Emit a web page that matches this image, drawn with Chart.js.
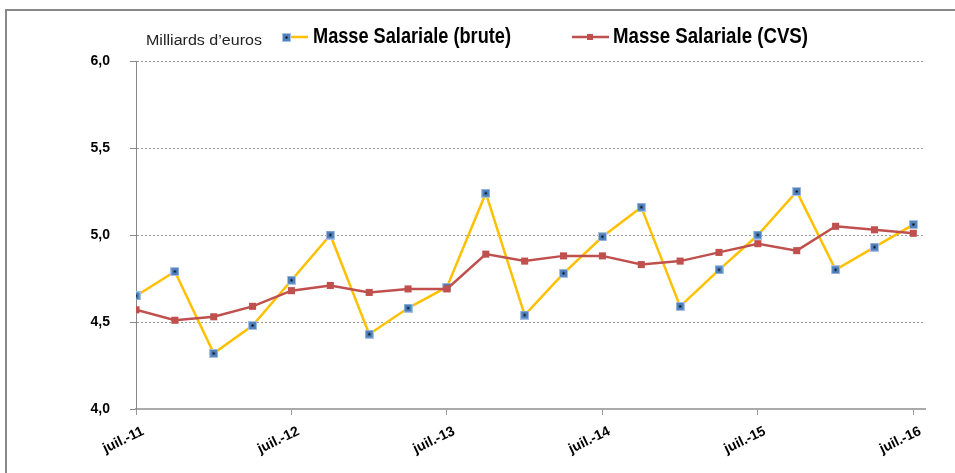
<!DOCTYPE html>
<html>
<head>
<meta charset="utf-8">
<script src="https://cdn.jsdelivr.net/npm/chart.js@4.4.1/dist/chart.umd.min.js"></script>
<style>
  body { margin: 0; background: #fff; overflow: hidden; }
  #frame { position: absolute; left: 5px; top: 9px; width: 1000px; height: 500px; border: 2px solid #888; }
  #salaryChart { position: absolute; left: 0; top: 0; }
</style>
</head>
<body>
<div id="frame"></div>
<canvas id="salaryChart" width="955" height="473"></canvas>
<script>
// quarters from juil.-11 to juil.-16
const quarters = [
  "juil.-11", "oct.-11", "janv.-12", "avr.-12",
  "juil.-12", "oct.-12", "janv.-13", "avr.-13",
  "juil.-13", "oct.-13", "janv.-14", "avr.-14",
  "juil.-14", "oct.-14", "janv.-15", "avr.-15",
  "juil.-15", "oct.-15", "janv.-16", "avr.-16",
  "juil.-16"
];
const masseBrute = [4.65, 4.79, 4.32, 4.48, 4.74, 5.00, 4.43, 4.58, 4.70, 5.24, 4.54,
  4.78, 4.99, 5.16, 4.59, 4.80, 5.00, 5.25, 4.80, 4.93, 5.06];
const masseCVS = [4.57, 4.51, 4.53, 4.59, 4.68, 4.71, 4.67, 4.69, 4.69, 4.89, 4.85,
  4.88, 4.88, 4.83, 4.85, 4.90, 4.95, 4.91, 5.05, 5.03, 5.01];
const shownTicks = [0, 4, 8, 12, 16, 20];
const yTicks = [4.0, 4.5, 5.0, 5.5, 6.0];

const serieLabels = ["Masse Salariale (brute)", "Masse Salariale (CVS)"];
const unitLabel = "Milliards d\u2019euros";

// blue marker with a black dot in the middle
function makeBlueMarker() {
  const c = document.createElement("canvas");
  c.width = 9; c.height = 9;
  const g = c.getContext("2d");
  g.fillStyle = "#A9C2E3";
  g.fillRect(0, 0, 9, 9);
  g.fillStyle = "#4F81BD";
  g.fillRect(1, 1, 7, 7);
  g.fillStyle = "#000";
  g.fillRect(3.5, 3.5, 2, 2);
  return c;
}
const blueMarker = makeBlueMarker();

function toPoints(arr) {
  return arr.map((v, i) => ({ x: i, y: v }));
}

function fitText(ctx, text, x, y, w) {
  const m = ctx.measureText(text).width;
  ctx.save();
  ctx.translate(x, y);
  ctx.scale(w / m, 1);
  ctx.fillText(text, 0, 0);
  ctx.restore();
}

const legendPlugin = {
  id: "customLegend",
  afterDraw(chart) {
    const ctx = chart.ctx;
    ctx.save();
    ctx.textBaseline = "middle";
    ctx.textAlign = "left";
    ctx.fillStyle = "#222";
    ctx.font = "14px 'Liberation Sans', Arial, sans-serif";
    fitText(ctx, unitLabel, 146, 41, 116);

    // brute
    ctx.strokeStyle = "#FFC000";
    ctx.lineWidth = 2.5;
    ctx.beginPath(); ctx.moveTo(283, 37); ctx.lineTo(308, 37); ctx.stroke();
    ctx.drawImage(blueMarker, 282, 33);
    // cvs
    ctx.strokeStyle = "#C0504D";
    ctx.beginPath(); ctx.moveTo(572, 37); ctx.lineTo(609, 37); ctx.stroke();
    ctx.fillStyle = "#C0504D";
    ctx.fillRect(587, 34, 6, 6);

    ctx.fillStyle = "#000";
    ctx.font = "bold 22px 'Liberation Sans Narrow', 'Liberation Sans', Arial, sans-serif";
    fitText(ctx, serieLabels[0], 313, 37, 198);
    fitText(ctx, serieLabels[1], 613, 37, 195);
    ctx.restore();
  }
};

const tickFont = { family: "'Liberation Sans', Arial, sans-serif", size: 14, weight: "bold" };

new Chart(document.getElementById("salaryChart"), {
  type: "line",
  data: {
    datasets: [
      {
        label: serieLabels[0],
        data: toPoints(masseBrute),
        borderColor: "#FFC000",
        borderWidth: 2.5,
        pointStyle: blueMarker,
        pointRadius: 4.5,
        tension: 0,
        order: 2
      },
      {
        label: serieLabels[1],
        data: toPoints(masseCVS),
        borderColor: "#C0504D",
        backgroundColor: "#C0504D",
        borderWidth: 2.5,
        pointStyle: "rect",
        pointRadius: 5,
        pointBorderWidth: 0,
        tension: 0,
        order: 1
      }
    ]
  },
  options: {
    responsive: false,
    animation: false,
    devicePixelRatio: 1,
    layout: { padding: { top: 61, right: 30, left: 0, bottom: 0 } },
    plugins: {
      legend: { display: false },
      tooltip: { enabled: false }
    },
    scales: {
      x: {
        type: "linear",
        min: 0,
        max: 20.3,
        afterBuildTicks: (scale) => {
          scale.ticks = shownTicks.map(v => ({ value: v }));
        },
        afterFit: (scale) => { scale.height = 64; },
        ticks: {
          autoSkip: false,
          minRotation: 26,
          maxRotation: 26,
          padding: 8,
          labelOffset: 7,
          color: "#000",
          font: tickFont,
          callback: (v) => quarters[v]
        },
        grid: {
          drawOnChartArea: false,
          drawTicks: true,
          tickLength: 6,
          color: "#999"
        },
        border: { display: true, color: "#aaa", width: 2 }
      },
      y: {
        min: 4,
        max: 6,
        afterBuildTicks: (scale) => {
          scale.ticks = yTicks.map(v => ({ value: v }));
        },
        afterFit: (scale) => { scale.width = 136; },
        ticks: {
          padding: 20,
          color: "#000",
          font: tickFont,
          callback: (v) => v.toFixed(1).replace(".", ",")
        },
        grid: {
          color: "#999",
          tickBorderDash: [1, 0],
          tickColor: "#888",
          tickLength: 6
        },
        border: { display: true, color: "#888", width: 1, dash: [2, 2] }
      }
    }
  },
  plugins: [legendPlugin]
});
</script>
</body>
</html>
